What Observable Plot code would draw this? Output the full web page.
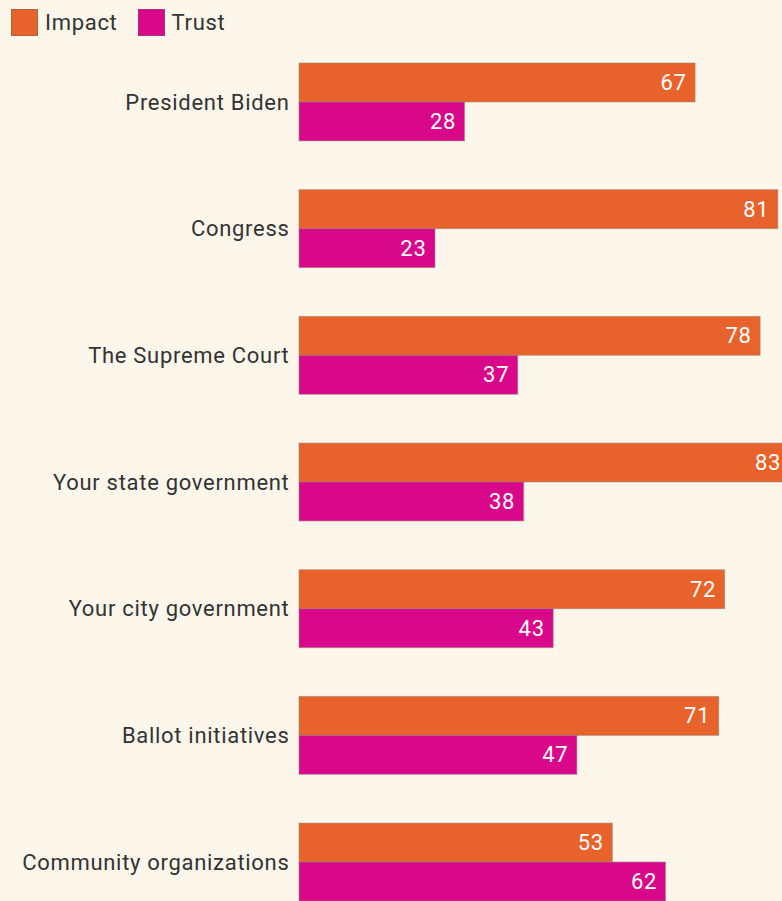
<!DOCTYPE html>
<html>
<head>
<meta charset="utf-8">
<script src="https://cdn.jsdelivr.net/npm/d3@7"></script>
<script src="https://cdn.jsdelivr.net/npm/@observablehq/plot@0.6"></script>
<style>
  html, body { margin: 0; padding: 0; background: #fdf6ea; }
  body { width: 782px; height: 901px; overflow: hidden; font-family: Roboto, sans-serif; }
  #legend { height: 50px; display: flex; align-items: center; padding-left: 11px; box-sizing: border-box; padding-bottom: 5px; }
  .item { display: flex; align-items: center; margin-right: 20px; font-size: 22px; letter-spacing: 0.7px; color: #333; }
  .sw { width: 27px; height: 27px; margin-right: 7px; box-sizing: border-box; border: 1px solid rgba(120,100,90,0.5); }
  #chart svg { display: block; }
</style>
</head>
<body>
<div id="legend"></div>
<div id="chart"></div>
<script>
const categories = ["President Biden", "Congress", "The Supreme Court", "Your state government", "Your city government", "Ballot initiatives", "Community organizations"];
const series = ["Impact", "Trust"];
const colors = ["#e8632b", "#d9078a"];
const impact = [67, 81, 78, 83, 72, 71, 53];
const trust = [28, 23, 37, 38, 43, 47, 62];

const data = [];
categories.forEach((c, i) => {
  data.push({category: c, series: "Impact", value: impact[i]});
  data.push({category: c, series: "Trust", value: trust[i]});
});

const legend = document.getElementById("legend");
series.forEach((s, i) => {
  const item = document.createElement("div");
  item.className = "item";
  const sw = document.createElement("span");
  sw.className = "sw";
  sw.style.background = colors[i];
  item.appendChild(sw);
  item.appendChild(document.createTextNode(s));
  legend.appendChild(item);
});

const chart = Plot.plot({
  width: 782,
  height: 851,
  marginLeft: 299,
  marginRight: 0,
  marginTop: 13,
  marginBottom: 0,
  style: {background: "transparent", fontFamily: "Roboto, sans-serif", fontSize: "22px", color: "#333", letterSpacing: "0.7px"},
  x: {domain: [0, 81.7], axis: null},
  y: {domain: series, padding: 0, round: false, axis: null},
  fy: {domain: categories, paddingInner: 0.385, paddingOuter: 0, round: false, label: null, tickSize: 0, tickPadding: 10, axis: "left"},
  color: {domain: series, range: colors},
  marks: [
    Plot.barX(data, {fy: "category", y: "series", x: "value", fill: "series", stroke: "#9a8478", strokeOpacity: 0.55, strokeWidth: 1}),
    Plot.text(data, {fy: "category", y: "series", x: "value", text: d => String(d.value), textAnchor: "end", dx: -9, fill: "white", fontSize: 22})
  ]
});
document.getElementById("chart").appendChild(chart);
</script>
</body>
</html>
